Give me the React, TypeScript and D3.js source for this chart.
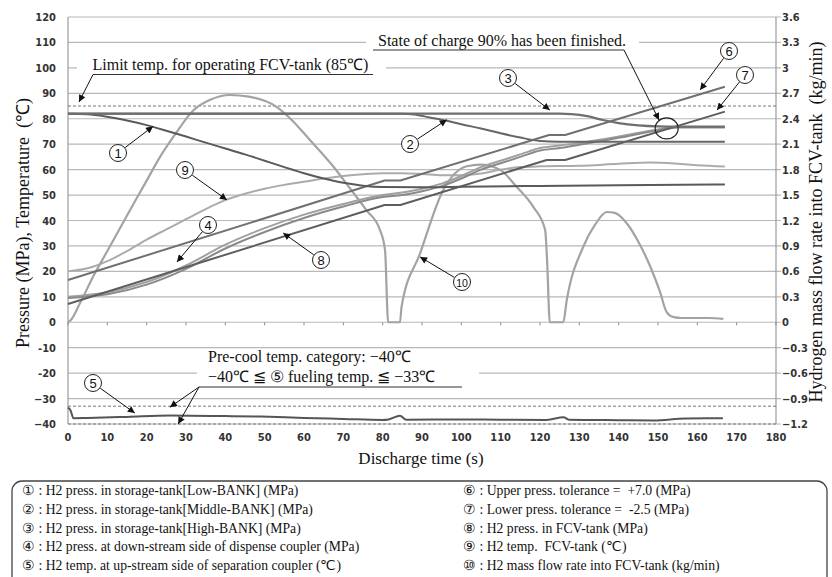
import React from "react";
import * as d3 from "d3";

type P = [number, number];

// ---- Data (time s, value) ----
const lowBank: P[] = [[0,82],[5,81.8],[10,80.8],[15,79.3],[20,77.5],[25,75.3],[30,73],[35,70.6],[40,68.3],[45,66],[50,63.5],[55,61],[60,58.6],[65,56.5],[70,54.8],[75,53.7],[80,53.2],[90,53.1],[100,53.3],[120,53.6],[140,53.9],[167,54.2]];
const middleBank: P[] = [[0,82],[85,82],[88,81.7],[92,80.5],[96,79.3],[100,77.8],[105,76.2],[110,74.3],[115,72.6],[120,71.3],[125,71],[167,71]];
const highBank: P[] = [[0,82],[125,82],[128,81.8],[132,81],[136,79.5],[140,78.3],[145,77.4],[150,77],[155,76.9],[167,76.9]];
const couplerPress: P[] = [[0,10],[10,11.8],[20,15.8],[30,22.3],[40,30.5],[50,37],[60,42.3],[70,46.5],[80,50],[85,51],[90,52.5],[95,54.5],[100,57.5],[105,61],[110,63.5],[115,66],[120,68.5],[125,69.5],[130,70.5],[140,73],[150,75.8],[155,76.8],[167,76.8]];
const couplerTemp: P[] = [[0,-33.6],[0.6,-34.5],[1.4,-37.7],[5,-37.6],[15,-37.2],[26,-36.7],[40,-36.9],[49,-37.1],[60,-37.6],[70,-38],[80,-38.4],[81.5,-38.2],[84.4,-36.8],[86,-38.3],[100,-38.2],[110,-38.3],[121.7,-38.4],[126,-37.3],[127.3,-38.3],[140,-38.5],[149,-38.6],[157,-37.8],[166.5,-37.7]];
const upperTol: P[] = [[0,16.6],[80.5,55.7],[84.5,55.7],[122.3,73.6],[126.4,73.6],[167,92.6]];
const lowerTol: P[] = [[0,7.2],[80.5,46.1],[84.5,46.1],[121.7,63.8],[126.4,63.8],[167,82.8]];
const fcvPress: P[] = [[0,9.5],[10,11],[20,14.8],[30,21],[40,29],[50,35.5],[60,41],[70,45.5],[80,49.2],[85,50],[90,51.5],[95,53.5],[100,56.5],[105,60],[110,62.5],[115,65],[120,67.5],[125,68.5],[130,69.8],[140,72.5],[150,75.5],[155,76.6],[167,76.6]];
const fcvTemp: P[] = [[0,20],[5,21.2],[10,24],[15,28],[20,32.5],[25,36.5],[30,40.5],[35,44.5],[40,48],[45,50.5],[50,52.5],[55,54],[60,55.2],[65,56.5],[70,57.5],[75,58.2],[80,58.6],[85,58.6],[90,58.3],[95,57.8],[100,57.8],[105,58.5],[110,60],[115,61],[120,61.3],[130,61.5],[140,62.3],[148,62.8],[155,62.3],[160,61.7],[167,61.2]];
// flow rate (kg/min) on the right axis
const flowRate: P[] = [[0,0],[0.6,0.02],[3,0.22],[6.4,0.54],[10,0.84],[14.9,1.25],[20,1.67],[23.4,1.95],[27,2.2],[31.9,2.5],[36,2.62],[41.2,2.68],[46,2.66],[53,2.54],[57,2.38],[61.5,2.15],[67.4,1.84],[72,1.56],[75.9,1.32],[79.3,1.09],[80.6,0.85],[81.4,0],[84.4,0],[84.8,0.18],[89.5,0.81],[95.4,1.56],[101.4,1.84],[104.8,1.86],[109.8,1.8],[114,1.6],[118.3,1.36],[121.3,1.09],[121.8,0.73],[122.5,0],[125.9,0],[126.8,0.26],[131,0.89],[134,1.15],[137,1.3],[139,1.29],[142,1.17],[145,0.95],[148,0.66],[150.5,0.36],[152.2,0.12],[154,0.06],[156,0.05],[160,0.05],[163,0.05],[166.6,0.04]];

const xTicks = d3.range(0, 181, 10);
const leftTicks = [120,110,100,90,80,70,60,50,40,30,20,10,0,-10,-20,-30,-40];
const leftTickLabels = ["120","110","100","90","80","70","60","50","40","30","20","10","0","-10","-20","\u221230","\u221240"];
const rightTicks = [3.6,3.3,3,2.7,2.4,2.1,1.8,1.5,1.2,0.9,0.6,0.3,0,-0.3,-0.6,-0.9,-1.2];
const rightTickLabels = ["3.6","3.3","3","2.7","2.4","2.1","1.8","1.5","1.2","0.9","0.6","0.3","0","\u22120.3","\u22120.6","\u22120.9","\u22121.2"];

const legendLeft = [
  "\u2460 : H2 press. in storage-tank[Low-BANK] (MPa)",
  "\u2461 : H2 press. in storage-tank[Middle-BANK] (MPa)",
  "\u2462 : H2 press. in storage-tank[High-BANK] (MPa)",
  "\u2463 : H2 press. at down-stream side of dispense coupler (MPa)",
  "\u2464 : H2 temp. at up-stream side of separation coupler (\u2103)",
];
const legendRight = [
  "\u2465 : Upper press. tolerance =  +7.0 (MPa)",
  "\u2466 : Lower press. tolerance =  -2.5 (MPa)",
  "\u2467 : H2 press. in FCV-tank (MPa)",
  "\u2468 : H2 temp.  FCV-tank (\u2103)",
  "\u2469 : H2 mass flow rate into FCV-tank (kg/min)",
];

const W = 832, H = 577;
const x = d3.scaleLinear().domain([0, 180]).range([68, 776]);
const y = d3.scaleLinear().domain([-40, 120]).range([424, 17]);
const yR = d3.scaleLinear().domain([-1.2, 3.6]).range([424, 17]);

const serif = "'Liberation Serif', 'Times New Roman', serif";
const tickFont = "'Liberation Sans Narrow', 'DejaVu Sans Condensed', 'Liberation Sans', sans-serif";

const smooth = d3.line<P>().x(d => x(d[0])).y(d => y(d[1])).curve(d3.curveMonotoneX);
const straight = d3.line<P>().x(d => x(d[0])).y(d => y(d[1]));
const flowLine = d3.line<P>().x(d => x(d[0])).y(d => yR(d[1])).curve(d3.curveMonotoneX);

const series = [
  { d: smooth(fcvTemp), c: "#ababab", w: 2 },
  { d: flowLine(flowRate), c: "#a3a3a3", w: 2.2 },
  { d: smooth(couplerPress), c: "#a0a0a0", w: 2 },
  { d: smooth(fcvPress), c: "#8a8a8a", w: 2 },
  { d: straight(upperTol), c: "#707070", w: 2 },
  { d: straight(lowerTol), c: "#5e5e5e", w: 2 },
  { d: smooth(lowBank), c: "#5a5a5a", w: 2 },
  { d: smooth(middleBank), c: "#666666", w: 2 },
  { d: smooth(highBank), c: "#6e6e6e", w: 2.2 },
  { d: smooth(couplerTemp), c: "#555555", w: 2 },
];

// label bubbles: [text, cx, cy, target time, target value]
const bubbles: [string, number, number, number, number][] = [
  ["1", 118, 153, 21.6, 77],
  ["2", 410, 144, 96.3, 79.6],
  ["3", 508, 78, 122.5, 83.4],
  ["4", 208, 225, 27.7, 23.7],
  ["5", 93, 383, 17, -35.7],
  ["6", 729, 51, 160.7, 91.3],
  ["7", 745, 75, 165, 83.4],
  ["8", 321, 260, 54.7, 35.1],
  ["9", 185, 170, 40.4, 48.1],
  ["10", 462, 282, 89.5, 25.7],
];

function Arrow({ x1, y1, x2, y2 }: { x1: number; y1: number; x2: number; y2: number }) {
  return <line x1={x1} y1={y1} x2={x2} y2={y2} stroke="#111" strokeWidth={1} markerEnd="url(#ah)" />;
}

export default function App() {
  const R = 8.5;
  return (
    <svg width={W} height={H} viewBox={`0 0 ${W} ${H}`} style={{ position: "absolute", left: 0, top: 0, background: "#fff" }}>
      <defs>
        <marker id="ah" viewBox="0 0 10 10" refX="10" refY="5" markerWidth="9" markerHeight="7" markerUnits="userSpaceOnUse" orient="auto">
          <path d="M0,0 L10,5 L0,10 z" fill="#111" />
        </marker>
      </defs>

      {/* gridlines */}
      {leftTicks.map(v => (
        <line key={"g" + v} x1={x(0)} x2={x(180) + 5} y1={y(v)} y2={y(v)} stroke="#b8b8b8" strokeWidth={1.2} />
      ))}
      {/* axes */}
      <line x1={x(0)} x2={x(0)} y1={y(120)} y2={y(-40)} stroke="#9a9a9a" strokeWidth={1.2} />
      <line x1={x(180)} x2={x(180)} y1={y(120)} y2={y(-40)} stroke="#9a9a9a" strokeWidth={1.2} />
      {xTicks.map(t => (
        <line key={"xt" + t} x1={x(t)} x2={x(t)} y1={y(0)} y2={y(0) + 3} stroke="#888" strokeWidth={1} />
      ))}

      {/* white boxes behind annotations */}
      <rect x={77} y={y(100) - 3} width={309} height={6} fill="#fff" />
      <rect x={366} y={y(110) - 3} width={273} height={6} fill="#fff" />
      <rect x={197} y={y(-20) - 3} width={282} height={6} fill="#fff" />

      {/* reference dashed lines */}
      {[85, -33, -40].map(v => (
        <line key={"d" + v} x1={x(0)} x2={x(180)} y1={y(v)} y2={y(v)} stroke="#777" strokeWidth={1} strokeDasharray="3,2" />
      ))}

      {/* series */}
      {series.map((s, i) => (
        <path key={"s" + i} d={s.d || ""} fill="none" stroke={s.c} strokeWidth={s.w} strokeLinejoin="round" />
      ))}

      {/* tick labels */}
      {leftTicks.map((v, i) => (
        <text key={"lt" + v} x={56} y={y(v) + 4} textAnchor="end" fontFamily={tickFont} fontSize={11} fontWeight="bold" fill="#333">{leftTickLabels[i]}</text>
      ))}
      {rightTicks.map((v, i) => (
        <text key={"rt" + v} x={782} y={yR(v) + 4} textAnchor="start" fontFamily={tickFont} fontSize={11} fontWeight="bold" fill="#333">{rightTickLabels[i]}</text>
      ))}
      {xTicks.map(t => (
        <text key={"xl" + t} x={x(t)} y={441} textAnchor="middle" fontFamily={tickFont} fontSize={11} fontWeight="bold" fill="#333">{t}</text>
      ))}

      {/* axis titles */}
      <text transform={`translate(29,223) rotate(-90)`} textAnchor="middle" fontFamily={serif} fontSize={18} fill="#111" style={{ whiteSpace: "pre" }}>Pressure (MPa), Temperature  (℃)</text>
      <text transform={`translate(822,222) rotate(-90)`} textAnchor="middle" fontFamily={serif} fontSize={18} fill="#111" style={{ whiteSpace: "pre" }}>Hydrogen mass flow rate into FCV-tank  (kg/min)</text>
      <text x={421} y={464} textAnchor="middle" fontFamily={serif} fontSize={17} fill="#111">Discharge time (s)</text>

      {/* annotations */}
      <text x={92.5} y={69.5} fontFamily={serif} fontSize={16} fill="#111">Limit temp. for operating FCV-tank (85℃)</text>
      <line x1={93} x2={373} y1={74.5} y2={74.5} stroke="#333" strokeWidth={1.2} />
      <Arrow x1={93} y1={74.5} x2={x(2.8)} y2={y(86.6)} />

      <text x={378} y={45.5} fontFamily={serif} fontSize={16} fill="#111">State of charge 90% has been finished.</text>
      <line x1={373} x2={624} y1={50} y2={50} stroke="#333" strokeWidth={1.2} />
      <Arrow x1={624} y1={50} x2={659} y2={120} />
      <ellipse cx={x(152.2)} cy={y(76.2)} rx={11.5} ry={10.5} fill="none" stroke="#222" strokeWidth={1.2} />

      <text x={208} y={362} fontFamily={serif} fontSize={16} fill="#111">Pre-cool temp. category: −40℃</text>
      <text x={208} y={382} fontFamily={serif} fontSize={16} fill="#111">−40℃ ≦ ⑤ fueling temp. ≦ −33℃</text>
      <line x1={199} x2={462} y1={387} y2={387} stroke="#333" strokeWidth={1.2} />
      <Arrow x1={199} y1={387} x2={x(25.9)} y2={y(-33.4)} />
      <Arrow x1={199} y1={387} x2={x(28)} y2={y(-40)} />

      {bubbles.map(([t, cx, cy, tt, tv]) => {
        const tx = x(tt), ty = y(tv);
        const dx = tx - cx, dy = ty - cy;
        const L = Math.hypot(dx, dy);
        const sx = cx + (dx / L) * (R + 0.5), sy = cy + (dy / L) * (R + 0.5);
        return (
          <g key={"b" + t}>
            <Arrow x1={sx} y1={sy} x2={tx} y2={ty} />
            <circle cx={cx} cy={cy} r={R} fill="#fff" stroke="#222" strokeWidth={1} />
            <text x={cx} y={cy + 4.5} textAnchor="middle" fontFamily="'Liberation Sans Narrow', 'Liberation Sans', sans-serif" fontSize={t.length > 1 ? 10.5 : 13} fill="#111">{t}</text>
          </g>
        );
      })}

      {/* legend box */}
      <rect x={12} y={481} width={815} height={120} rx={10} ry={10} fill="none" stroke="#444" strokeWidth={1.3} />
      {legendLeft.map((s, i) => (
        <text key={"ll" + i} x={22} y={495 + i * 18.8} fontFamily={serif} fontSize={13.7} fill="#111" style={{ whiteSpace: "pre" }}>{s}</text>
      ))}
      {legendRight.map((s, i) => (
        <text key={"lr" + i} x={463} y={495 + i * 18.8} fontFamily={serif} fontSize={13.7} fill="#111" style={{ whiteSpace: "pre" }}>{s}</text>
      ))}
    </svg>
  );
}
